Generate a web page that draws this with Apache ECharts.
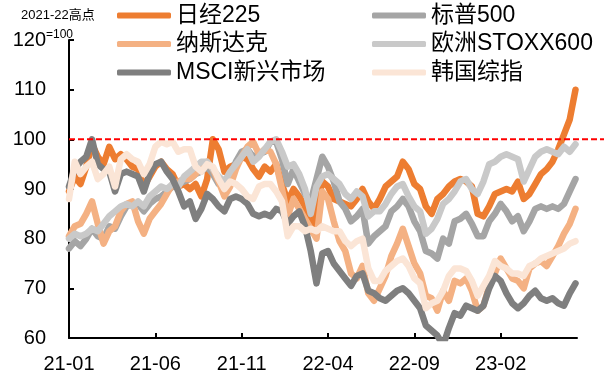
<!DOCTYPE html>
<html>
<head>
<meta charset="utf-8">
<script src="https://cdn.jsdelivr.net/npm/echarts@6/dist/echarts.min.js"></script>
<style>
html, body { margin: 0; padding: 0; background: #fff; }
#main { width: 615px; height: 376px; }
</style>
</head>
<body>
<div id="main"></div>
<script>
// 2021-22 high = 100, three readings per month from 2021-01 to 2023-06
var POINTS_PER_MONTH = 3;
var REF_LEVEL = 100;

var tickMonths = [0, 5, 10, 15, 20, 25];
var tickLabels = ["21-01", "21-06", "21-11", "22-04", "22-09", "23-02"];

var nikkei = [
  89.5, 92.5, 91.0, 94.5, 99.0, 96.5, 95.0, 98.5, 96.0, 97.0, 96.0, 94.5,
  94.0, 90.5, 92.5, 94.5, 95.5, 94.0, 93.0, 90.5, 91.0, 90.0, 91.0, 88.5,
  92.0, 100.0, 98.0, 93.5, 94.5, 95.0, 96.5, 96.0, 94.0, 92.5, 94.5, 93.5,
  95.0, 91.0, 87.5, 90.0, 88.5, 86.5, 81.5, 86.0, 91.5, 90.5, 88.0, 87.5,
  87.0, 86.5, 88.0, 90.0, 87.5, 86.0, 88.0, 90.5, 91.5, 92.5, 95.5, 94.0,
  91.0, 90.0, 86.5, 85.0, 88.0, 89.0, 90.5, 91.5, 92.0, 91.5, 90.5, 85.0,
  84.5, 86.5, 89.0, 89.5, 90.0, 89.5, 91.5, 88.0, 89.0, 91.0, 93.0, 94.0,
  95.5, 98.0, 101.0, 104.0, 110.0
];
var sp500 = [
  78.0, 79.5, 78.5, 80.0, 82.0, 80.5, 80.0, 82.5, 82.0, 84.5, 86.5, 87.0,
  87.0, 85.5, 87.0, 88.0, 88.5, 89.5, 90.5, 91.0, 91.5, 92.0, 93.0, 93.5,
  94.5, 93.0, 91.0, 90.5, 92.5, 95.5, 97.5, 98.0, 96.5, 97.0, 97.5, 99.5,
  99.5, 96.0, 91.0, 94.0, 91.5, 89.0, 87.5, 92.0, 96.5, 94.5, 91.5, 87.5,
  86.0, 83.5, 84.5, 86.0, 79.0, 80.5, 81.5, 82.5, 85.5, 86.5, 88.0, 86.5,
  83.5, 81.5, 77.5, 77.0, 76.0, 80.0, 79.0, 83.5, 84.0, 85.0, 83.0, 80.5,
  80.5, 83.5, 85.0, 87.0, 85.5, 83.5, 84.5, 81.5, 83.5, 86.0, 86.5, 86.0,
  86.5, 86.0, 87.0, 89.5, 92.0
];
var nasdaq = [
  80.5, 82.5, 83.0, 85.0, 87.5, 83.0, 79.0, 81.5, 82.5, 85.5, 87.0, 87.5,
  83.5, 81.0, 84.0, 85.5, 87.0, 89.0, 91.0, 91.5, 92.0, 92.0, 93.0, 94.5,
  95.5, 94.0, 91.5, 88.5, 90.5, 94.0, 96.5, 98.5, 99.5, 97.0, 98.0, 97.5,
  95.0, 90.0, 84.5, 88.0, 86.0, 84.0, 82.0, 80.0, 89.5, 88.0, 83.5, 79.5,
  77.5, 73.0, 72.0, 74.5, 69.0, 67.5, 70.0, 72.5, 76.5, 79.0, 82.0, 78.5,
  75.0, 73.0, 68.5, 68.0, 65.5, 69.5, 67.5, 71.5, 71.0, 72.0, 69.5, 65.5,
  66.5, 70.5, 73.0, 76.0, 74.0, 72.0, 71.5, 70.0, 74.0, 75.0, 75.5, 74.5,
  76.5, 78.5, 81.0, 83.0, 86.0
];
var stoxx600 = [
  80.0, 81.0, 80.5, 81.0, 82.0, 81.5, 83.0, 84.5, 85.5, 86.5, 87.0, 86.5,
  87.5, 86.5, 88.5, 89.5, 90.5, 90.0, 91.0, 90.5, 92.5, 93.5, 94.5, 95.5,
  95.5, 94.0, 92.5, 91.5, 93.5, 95.0, 96.5, 98.0, 95.5, 96.5, 98.0, 99.5,
  100.0, 97.5, 94.5, 95.0, 93.0, 90.0, 85.0, 90.5, 92.5, 93.0, 92.0, 91.0,
  89.0, 88.0, 89.5, 88.5, 84.5, 85.5, 85.5, 87.0, 89.0, 90.5, 91.0, 88.5,
  86.5, 85.5, 81.0, 82.0, 84.0, 87.0, 88.0, 89.5, 91.5, 92.0, 90.0, 89.0,
  91.5, 95.0, 95.5, 96.5, 97.0, 96.5, 96.0, 91.5, 94.0, 96.5, 97.5, 98.0,
  97.5, 97.0, 98.5, 97.5, 99.0
];
var msciEm = [
  90.5, 94.0, 95.5, 96.5, 100.0, 95.0, 94.0, 93.5, 89.5, 93.0, 93.5, 93.0,
  92.5, 89.5, 93.0, 95.0, 95.5, 93.5, 92.0, 89.5, 86.5, 87.5, 84.0, 86.0,
  89.0, 88.0, 86.5, 85.5, 88.0, 88.5, 88.0, 87.0, 85.0, 84.5, 85.0, 84.5,
  86.0, 85.5, 83.0, 84.5, 85.5, 82.5, 77.5, 71.0, 77.0, 77.5, 75.0, 73.5,
  72.0, 70.5, 72.5, 73.0, 69.5, 69.0, 68.0, 67.5, 68.5, 69.5, 70.0, 69.0,
  67.5, 66.0, 62.5, 61.5, 60.5, 58.5, 62.0, 65.0, 64.5, 66.5, 66.0, 65.5,
  66.5, 70.0, 72.5, 71.5, 69.0, 67.0, 66.0, 67.0, 68.5, 69.5, 68.0, 67.5,
  68.0, 67.0, 66.5, 69.0, 71.0
];
var kospi = [
  88.0, 95.5, 93.0, 94.5, 95.5, 92.0, 93.0, 94.5, 90.5, 96.0, 97.0, 96.0,
  95.5, 93.0, 95.0, 98.5, 99.5, 99.0, 99.5, 97.5, 98.0, 98.0, 94.5, 93.5,
  95.0, 94.5, 92.0, 90.0, 91.5, 91.0, 90.0, 88.5, 88.0, 90.5, 91.0, 91.0,
  89.5, 87.5, 80.5, 82.5, 82.5, 81.5, 82.0, 81.5, 82.5, 82.0, 81.5, 81.5,
  79.5, 78.5, 79.5, 80.0, 74.0, 71.5, 71.5, 73.5, 74.5, 75.5, 76.0, 74.5,
  72.0, 71.0, 66.0, 67.0, 67.5, 69.5, 72.5, 74.0, 74.0, 73.5, 71.5, 68.5,
  70.5, 72.5, 75.5, 74.5, 74.0, 73.0, 73.0, 72.5, 74.5, 75.0, 76.0, 76.5,
  77.0, 77.5, 78.0, 79.0, 79.5
];

var indices = [
  { name: "日经225", data: nikkei, color: "#ED7D31" },
  { name: "标普500", data: sp500, color: "#A5A5A5" },
  { name: "纳斯达克", data: nasdaq, color: "#F4B183" },
  { name: "欧洲STOXX600", data: stoxx600, color: "#C9C9C9" },
  { name: "MSCI新兴市场", data: msciEm, color: "#7F7F7F" },
  { name: "韩国综指", data: kospi, color: "#FBE5D6" }
];

var FONT = "'Liberation Sans', 'Noto Sans CJK SC', sans-serif";

var myChart = echarts.init(document.getElementById("main"));

var series = indices.map(function(s) {
  return {
    name: s.name,
    type: "line",
    xAxisIndex: 0,
    yAxisIndex: 0,
    showSymbol: false,
    symbol: "none",
    data: s.data.map(function(v, i) { return [i / POINTS_PER_MONTH, v]; }),
    itemStyle: { color: s.color },
    lineStyle: { width: 6.5, color: s.color, cap: "round", join: "round" }
  };
});

// red dashed reference line at 100, runs past the end of the x axis
series.push({
  name: "ref",
  type: "line",
  xAxisIndex: 1,
  yAxisIndex: 1,
  symbol: "none",
  silent: true,
  data: [[0, REF_LEVEL], [1, REF_LEVEL]],
  lineStyle: { width: 2, color: "#FF0000", type: [6, 3] },
  z: 5
});

var legendText = { fontSize: 23, lineHeight: 23, color: "#000", fontFamily: FONT };

function makeLegend(names, left) {
  return {
    data: names,
    orient: "vertical",
    left: left,
    top: 4,
    padding: 0,
    itemWidth: 54,
    itemHeight: 6,
    itemGap: 5.5,
    icon: "roundRect",
    selectedMode: false,
    textStyle: legendText
  };
}

var option = {
  animation: false,
  backgroundColor: "#fff",
  textStyle: { fontFamily: FONT },
  legend: [
    makeLegend(["日经225", "纳斯达克", "MSCI新兴市场"], 117),
    makeLegend(["标普500", "欧洲STOXX600", "韩国综指"], 372)
  ],
  graphic: [
    { type: "text", left: 21, top: 9, style: { text: "2021-22高点", fontSize: 13, fill: "#000", fontFamily: FONT } },
    { type: "text", left: 46, top: 29, style: { text: "=100", fontSize: 12, fill: "#000", fontFamily: FONT } }
  ],
  grid: [
    { left: 69, right: 38, top: 40, bottom: 38 },
    { left: 69, right: 11, top: 40, bottom: 38 }
  ],
  xAxis: [
    {
      type: "value",
      gridIndex: 0,
      min: 0,
      max: 29.42,
      splitLine: { show: false },
      axisLine: { lineStyle: { color: "#000", width: 2 } },
      axisTick: { inside: true, length: 5, customValues: tickMonths, lineStyle: { color: "#000", width: 2 } },
      axisLabel: {
        customValues: tickMonths,
        margin: 16,
        fontSize: 20,
        color: "#000",
        fontFamily: FONT,
        formatter: function(v) {
          var i = tickMonths.indexOf(Math.round(v));
          return i >= 0 ? tickLabels[i] : "";
        }
      }
    },
    { type: "value", gridIndex: 1, min: 0, max: 1, show: false }
  ],
  yAxis: [
    {
      type: "value",
      gridIndex: 0,
      min: 60,
      max: 120,
      interval: 10,
      splitLine: { show: false },
      axisLine: { show: true, lineStyle: { color: "#000", width: 2 } },
      axisTick: { show: true, inside: true, length: 5, lineStyle: { color: "#000", width: 2 } },
      axisLabel: { margin: 23, fontSize: 20, color: "#000", fontFamily: FONT }
    },
    { type: "value", gridIndex: 1, min: 60, max: 120, show: false }
  ],
  series: series
};

myChart.setOption(option);
</script>
</body>
</html>
